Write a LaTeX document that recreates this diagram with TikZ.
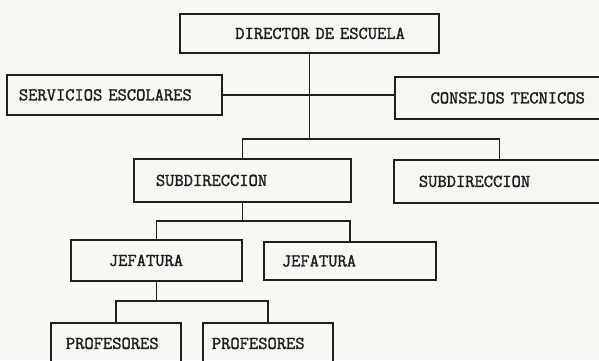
\documentclass[tikz,border=0pt]{standalone}
\usepackage{fontspec}
\newfontfamily\typewriter[FakeBold=1.6]{Latin Modern Mono}
\definecolor{paper}{RGB}{246,246,242}
\definecolor{ink}{RGB}{30,30,30}

\begin{document}
\begin{tikzpicture}[x = 1pt, y = -1pt, line width = 1.8pt, draw = ink,
	unit/.style = {draw = ink, rectangle, anchor = north west, inner ysep = 0pt, text = ink,
		font = \typewriter\fontsize{18}{20}\selectfont}]
	%	page
	\fill[paper] (0, 0) rectangle (599, 360);
	\useasboundingbox (0, 0) rectangle (599, 360);
	
	%	boxes
	\node[unit, minimum width = 259pt, minimum height = 39pt, text width = 191pt, inner xsep = 34pt, align = right] (dir) at (179, 13) {DIRECTOR DE ESCUELA};
	\node[unit, minimum width = 215pt, minimum height = 40pt, text width = 191pt, inner xsep = 12pt, align = left] (serv) at (6, 74) {SERVICIOS ESCOLARES};
	\node[unit, minimum width = 210pt, minimum height = 42pt, text width = 170pt, inner xsep = 20pt, align = right] (cons) at (394, 76) {CONSEJOS TECNICOS};
	
	\node[unit, minimum width = 217pt, minimum height = 43pt, text width = 173pt, inner xsep = 22pt, align = left] (sub1) at (133, 158) {SUBDIRECCION};
	\node[unit, minimum width = 211pt, minimum height = 43pt, text width = 161pt, inner xsep = 25pt, align = left] (sub2) at (393, 159) {SUBDIRECCION};
	
	\node[unit, minimum width = 171pt, minimum height = 41pt, text width = 95pt, inner xsep = 38pt, align = left] (jef1) at (70, 239) {JEFATURA};
	\node[unit, minimum width = 172pt, minimum height = 38pt, text width = 136pt, inner xsep = 18pt, align = left] (jef2) at (263, 241) {JEFATURA};
	
	\node[unit, minimum width = 130pt, minimum height = 41pt, text width = 100pt, inner xsep = 15pt, align = left] (prof1) at (50, 322) {PROFESORES};
	\node[unit, minimum width = 130pt, minimum height = 41pt, text width = 112pt, inner xsep = 9pt, align = left] (prof2) at (202, 322) {PROFESORES};
	
	%	lines
	\coordinate (bar1) at ([yshift = -85pt]dir.south);
	\coordinate (bar2) at ([yshift = -18pt]sub1.south);
	\coordinate (bar3) at ([yshift = -19pt]jef1.south);
	
	\draw (serv.east) -- (serv.east -| cons.west);
	\draw (dir.south) -- (bar1);
	\draw (sub1.north) |- (bar1) -| (sub2.north);
	\draw (sub1.south) -- (bar2);
	\draw (jef1.north) |- (bar2) -| (jef2.north);
	\draw (jef1.south) -- (bar3);
	\draw (prof1.north) |- (bar3) -| (prof2.north);
\end{tikzpicture}
\end{document}
